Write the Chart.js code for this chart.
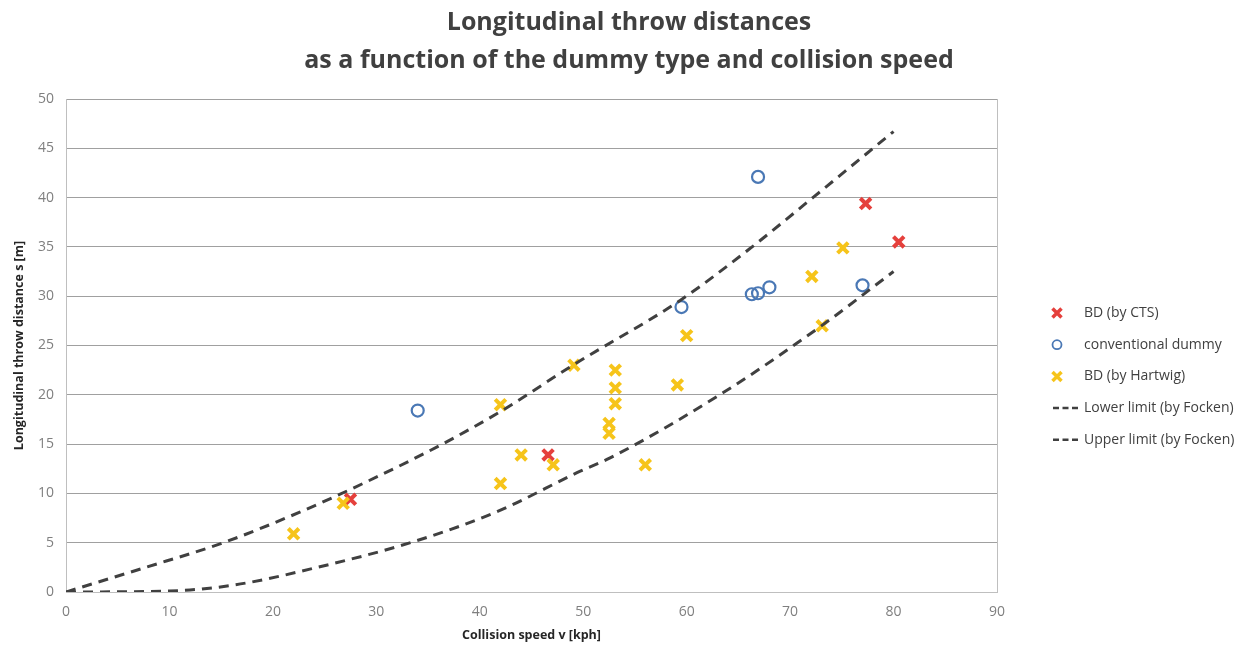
<!DOCTYPE html>
<html>
<head>
<meta charset="utf-8">
<script src="https://cdn.jsdelivr.net/npm/chart.js@4"></script>
<style>
  html, body { margin: 0; padding: 0; background: #fff; }
</style>
</head>
<body>
<canvas id="chart" width="1258" height="649"></canvas>
<script>
/* ---------- data ---------- */
const titleLines = ['Longitudinal throw distances', 'as a function of the dummy type and collision speed'];

const ctsSpeed  = [27.5, 46.6, 77.3, 80.5];
const ctsDist   = [9.4, 13.9, 39.4, 35.5];

const convSpeed = [34.0, 59.5, 66.9, 66.3, 66.9, 68.0, 77.0];
const convDist  = [18.4, 28.9, 42.1, 30.2, 30.3, 30.9, 31.1];

const hartSpeed = [22.0, 26.8, 42.0, 42.0, 44.0, 47.1, 49.1, 52.5, 52.5, 53.1, 53.1, 53.1, 56.0, 59.1, 60.0, 72.1, 73.1, 75.1];
const hartDist  = [5.9, 9.0, 19.0, 11.0, 13.9, 12.9, 23.0, 17.1, 16.1, 22.5, 20.7, 19.1, 12.9, 21.0, 26.0, 32.0, 27.0, 34.9];

const lowerSpeed = [0, 10, 16.2, 23.9, 33.9, 42, 49.4, 52.6, 63.5, 72.9, 80];
const lowerDist  = [0, 0.1, 0.7, 2.4, 5.2, 8.3, 12.1, 13.6, 20.2, 26.9, 32.5];

const upperSpeed = [0, 7.4, 15.2, 22.6, 29.1, 36.2, 42, 49, 59.4, 66.2, 72.2, 80];
const upperDist  = [0, 2.4, 5.0, 8.1, 11.2, 14.9, 18.3, 23.0, 29.6, 34.9, 40.0, 46.7];

const xTicks = [0, 10, 20, 30, 40, 50, 60, 70, 80, 90];
const yTicks = [0, 5, 10, 15, 20, 25, 30, 35, 40, 45, 50];

/* ---------- helpers ---------- */
const pts = (xs, ys) => xs.map((x, i) => ({ x, y: ys[i] }));
const FONT = '"Open Sans", "DejaVu Sans", sans-serif';

// legend drawn at the right, Excel style
const sideLegend = {
  id: 'sideLegend',
  afterDraw(chart) {
    const c  = chart.ctx;
    const x0 = chart.chartArea.right + 60;
    const top = 313, step = 31.7;
    c.save();
    c.font = '14px ' + FONT;
    c.textBaseline = 'middle';
    chart.data.datasets.forEach((ds, i) => {
      const y = top + i * step;
      c.strokeStyle = ds.borderColor;
      if (ds.showLine) {
        c.lineWidth = 2.5;
        c.setLineDash([6, 3.5]);
        c.beginPath(); c.moveTo(x0 - 4, y); c.lineTo(x0 + 21, y); c.stroke();
        c.setLineDash([]);
      } else if (ds.pointStyle === 'crossRot') {
        const r = 4.5;
        c.lineWidth = 3.5;
        c.beginPath();
        c.moveTo(x0 - r, y - r); c.lineTo(x0 + r, y + r);
        c.moveTo(x0 + r, y - r); c.lineTo(x0 - r, y + r);
        c.stroke();
      } else {
        c.lineWidth = 1.8;
        c.beginPath(); c.arc(x0, y, 4.5, 0, Math.PI * 2); c.stroke();
      }
      c.fillStyle = '#404040';
      c.fillText(ds.label, x0 + 27, y);
    });
    c.restore();
  }
};

/* ---------- chart ---------- */
const chart = new Chart(document.getElementById('chart'), {
  type: 'scatter',
  data: {
    datasets: [
      {
        label: 'BD (by CTS)',
        data: pts(ctsSpeed, ctsDist),
        pointStyle: 'crossRot', pointRadius: 7.5, pointBorderWidth: 4,
        borderColor: '#e5403c', backgroundColor: '#e5403c',
        order: 4
      },
      {
        label: 'conventional dummy',
        data: pts(convSpeed, convDist),
        pointStyle: 'circle', pointRadius: 6, pointBorderWidth: 2.2,
        borderColor: '#4a78b5', backgroundColor: 'rgba(255,255,255,0)',
        order: 5
      },
      {
        label: 'BD (by Hartwig)',
        data: pts(hartSpeed, hartDist),
        pointStyle: 'crossRot', pointRadius: 7.5, pointBorderWidth: 4,
        borderColor: '#f6c41a', backgroundColor: '#f6c41a',
        order: 3
      },
      {
        label: 'Lower limit (by Focken)',
        data: pts(lowerSpeed, lowerDist),
        showLine: true, pointRadius: 0, borderWidth: 3,
        borderDash: [10, 7], borderColor: '#404040',
        cubicInterpolationMode: 'monotone',
        order: 1
      },
      {
        label: 'Upper limit (by Focken)',
        data: pts(upperSpeed, upperDist),
        showLine: true, pointRadius: 0, borderWidth: 3,
        borderDash: [10, 7], borderColor: '#404040',
        cubicInterpolationMode: 'monotone',
        order: 2
      }
    ]
  },
  options: {
    responsive: false,
    animation: false,
    devicePixelRatio: 1,
    plugins: {
      legend: { display: false },
      tooltip: { enabled: false },
      title: {
        display: true,
        text: titleLines,
        color: '#404040',
        font: { family: FONT, size: 25, weight: 'bold', lineHeight: 1.52 },
        padding: { top: 4, bottom: 19 }
      }
    },
    scales: {
      x: {
        type: 'linear', min: 0, max: 90,
        afterBuildTicks: s => { s.ticks = xTicks.map(v => ({ value: v })); },
        afterFit: s => { s.height = 57; },
        ticks: { color: '#7f7f7f', font: { family: FONT, size: 14 }, padding: 12 },
        grid: { display: false, drawTicks: false },
        border: { color: '#bfbfbf' },
        title: {
          display: true, text: 'Collision speed v [kph]', color: '#262626',
          font: { family: FONT, size: 12.5, weight: 'bold' },
          padding: { top: 0, bottom: 6 }
        }
      },
      y: {
        type: 'linear', min: 0, max: 50,
        afterBuildTicks: s => { s.ticks = yTicks.map(v => ({ value: v })); },
        afterFit: s => { s.width = 66; },
        ticks: { color: '#7f7f7f', font: { family: FONT, size: 14 }, padding: 12 },
        grid: { color: '#a0a0a0', drawTicks: false },
        border: { color: '#bfbfbf' },
        title: {
          display: true, text: 'Longitudinal throw distance s [m]', color: '#262626',
          font: { family: FONT, size: 12.5, weight: 'bold' },
          padding: { top: 12, bottom: 0 }
        }
      },
      // empty right-hand axis: draws the right frame line and reserves room for the legend
      yRight: {
        type: 'linear', position: 'right', min: 0, max: 1,
        afterFit: s => { s.width = 261; },
        ticks: { display: false },
        grid: { display: false, drawTicks: false },
        border: { color: '#bfbfbf' }
      }
    }
  },
  plugins: [sideLegend]
});
</script>
</body>
</html>
